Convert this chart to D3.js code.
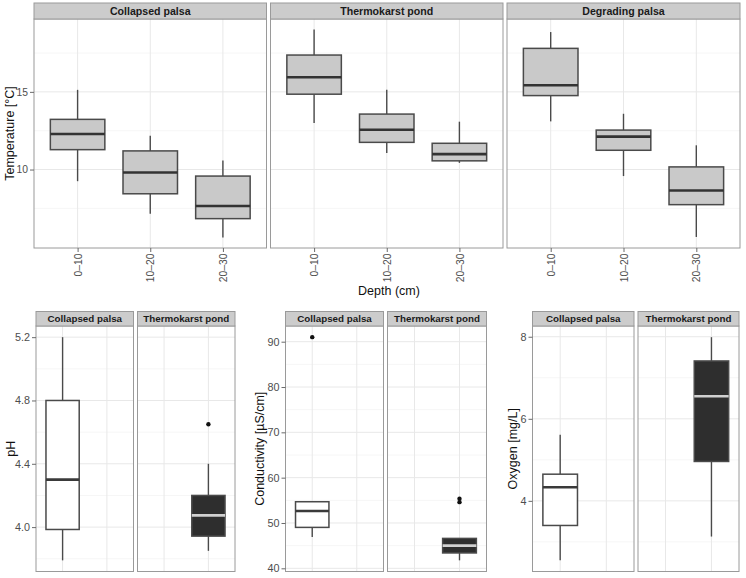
<!DOCTYPE html>
<html><head><meta charset="utf-8">
<script src="https://cdn.jsdelivr.net/npm/d3@7"></script>
<style>body{margin:0;background:#fff} text{font-family:"Liberation Sans",Arial,Helvetica,sans-serif}</style>
</head><body><svg id="c" width="746" height="578"></svg>
<script>
// ---------- data ----------
const sites = ["Collapsed palsa", "Thermokarst pond", "Degrading palsa"];
const depths = ["0–10", "10–20", "20–30"];
// temperature box statistics: rows = site, columns = depth
const tempMin = [[9.25, 7.16, 5.62], [12.99, 11.07, 10.43], [13.10, 9.58, 5.66]];
const tempQ1  = [[11.28, 8.44, 6.84], [14.85, 11.75, 10.56], [14.76, 11.24, 7.74]];
const tempMed = [[12.29, 9.81, 7.65], [15.94, 12.56, 10.99], [15.43, 12.12, 8.65]];
const tempQ3  = [[13.23, 11.20, 9.58], [17.37, 13.57, 11.69], [17.80, 12.54, 10.17]];
const tempMax = [[15.13, 12.18, 10.58], [19.02, 15.13, 13.08], [18.85, 13.59, 11.56]];
const tempTicks = [10, 15];

const waterSites = ["Collapsed palsa", "Thermokarst pond"];
// [lower whisker, Q1, median, Q3, upper whisker]
const phStats = [[3.79, 3.985, 4.30, 4.80, 5.20], [3.85, 3.943, 4.074, 4.20, 4.40]];
const phOutliers = [[], [4.65]];
const phTicks = [4.0, 4.4, 4.8, 5.2];
const condStats = [[46.9, 49.03, 52.64, 54.69, 54.69], [41.76, 43.39, 45.0, 46.6, 46.6]];
const condOutliers = [[91.0], [55.35, 54.6]];
const condTicks = [40, 50, 60, 70, 80, 90];
const oxyStats = [[2.55, 3.40, 4.33, 4.65, 5.61], [3.13, 4.96, 6.55, 7.41, 7.99]];
const oxyOutliers = [[], []];
const oxyTicks = [4, 6, 8];

// ---------- helpers ----------
const svg = d3.select("#c");
const C = {border: "#9a9a9a", strip: "#cccccc", gridMaj: "#e8e8e8", gridMin: "#f6f6f6",
           boxLine: "#4a4a4a", tick: "#6a6a6a", tickText: "#4d4d4d"};

function expandDomain(vals) {
  const lo = d3.min(vals), hi = d3.max(vals), r = hi - lo;
  return [lo - 0.05 * r, hi + 0.05 * r];
}
function minorTicks(ticks, dom) {
  const step = ticks[1] - ticks[0];
  const out = [];
  for (let v = ticks[0] - step / 2 - step * 20; v <= dom[1]; v += step)
    if (v >= dom[0]) out.push(v);
  return out;
}

function drawPanel(o) {
  const g = svg.append("g");
  const x = d3.scaleLinear().domain([0.4, o.nCat + 0.6]).range([o.x0, o.x1]);
  const y = o.y;
  const py0 = o.stripTop + o.stripH;
  g.append("rect").attr("x", o.x0).attr("y", py0).attr("width", o.x1 - o.x0)
    .attr("height", o.y1 - py0).attr("fill", "#fff");
  // grid
  const dom = y.domain();
  g.selectAll(".gmin").data(minorTicks(o.ticks, dom)).join("line")
    .attr("x1", o.x0).attr("x2", o.x1).attr("y1", d => y(d)).attr("y2", d => y(d))
    .attr("stroke", C.gridMin).attr("stroke-width", 1);
  g.selectAll(".gmaj").data(o.ticks.filter(t => t >= dom[0] && t <= dom[1])).join("line")
    .attr("x1", o.x0).attr("x2", o.x1).attr("y1", d => y(d)).attr("y2", d => y(d))
    .attr("stroke", C.gridMaj).attr("stroke-width", 1);
  g.selectAll(".gv").data(d3.range(1, o.nCat + 1)).join("line")
    .attr("x1", d => x(d)).attr("x2", d => x(d)).attr("y1", py0).attr("y2", o.y1)
    .attr("stroke", C.gridMaj).attr("stroke-width", 1);
  // boxes
  o.boxes.forEach(b => {
    const [lo, q1, md, q3, hi] = b.stats;
    const cx = x(b.pos);
    g.append("line").attr("x1", cx).attr("x2", cx).attr("y1", y(q3)).attr("y2", y(hi))
      .attr("stroke", C.boxLine).attr("stroke-width", 1.4);
    g.append("line").attr("x1", cx).attr("x2", cx).attr("y1", y(q1)).attr("y2", y(lo))
      .attr("stroke", C.boxLine).attr("stroke-width", 1.4);
    g.append("rect").attr("x", x(b.pos - 0.375)).attr("width", x(b.pos + 0.375) - x(b.pos - 0.375))
      .attr("y", y(q3)).attr("height", y(q1) - y(q3))
      .attr("fill", b.fill).attr("stroke", C.boxLine).attr("stroke-width", 1.5);
    g.append("line").attr("x1", x(b.pos - 0.375)).attr("x2", x(b.pos + 0.375))
      .attr("y1", y(md)).attr("y2", y(md)).attr("stroke", b.med).attr("stroke-width", 2.6);
    g.selectAll(null).data(b.outliers).join("circle")
      .attr("cx", cx).attr("cy", d => y(d)).attr("r", 2.2).attr("fill", "#111");
  });
  // border
  g.append("rect").attr("x", o.x0).attr("y", py0).attr("width", o.x1 - o.x0)
    .attr("height", o.y1 - py0).attr("fill", "none").attr("stroke", C.border).attr("stroke-width", 1);
  // strip
  g.append("rect").attr("x", o.x0).attr("y", o.stripTop).attr("width", o.x1 - o.x0)
    .attr("height", o.stripH).attr("fill", C.strip).attr("stroke", C.border).attr("stroke-width", 1);
  g.append("text").attr("x", (o.x0 + o.x1) / 2).attr("y", o.stripTop + o.stripH / 2)
    .attr("dy", "0.36em").attr("text-anchor", "middle").attr("font-weight", "bold")
    .attr("font-size", o.stripFs).attr("fill", "#1a1a1a").text(o.title);
  return x;
}

function drawYAxis(o) {
  const ax = d3.axisLeft(o.y).tickValues(o.ticks).tickSize(4).tickPadding(2)
    .tickFormat(o.fmt);
  const g = svg.append("g").attr("transform", `translate(${o.x0},0)`).call(ax);
  g.select(".domain").remove();
  g.selectAll(".tick line").attr("stroke", C.tick);
  g.selectAll(".tick text").attr("fill", C.tickText).attr("font-size", o.fs)
    .attr("font-family", '"Liberation Sans",Arial,sans-serif');
  svg.append("text").attr("transform", `translate(${o.titleX},${o.titleY}) rotate(-90)`)
    .attr("text-anchor", "middle").attr("font-size", 12.5).attr("fill", "#111").text(o.title);
}

// ---------- top row: temperature ----------
const topStrip = 3, topStripH = 16, topBottom = 248;
const tempAll = [].concat(...tempMin, ...tempMax);
const yTemp = d3.scaleLinear().domain(expandDomain(tempAll)).range([topBottom, topStrip + topStripH]);
const topX = [[34, 266.5], [270.5, 503], [507, 740]];
sites.forEach((s, i) => {
  const x = drawPanel({
    x0: topX[i][0], x1: topX[i][1], stripTop: topStrip, stripH: topStripH, y1: topBottom,
    y: yTemp, nCat: 3, ticks: tempTicks, title: s, stripFs: 10.6,
    boxes: depths.map((d, j) => ({pos: j + 1, fill: "#c9c9c9", med: "#333",
      stats: [tempMin[i][j], tempQ1[i][j], tempMed[i][j], tempQ3[i][j], tempMax[i][j]], outliers: []}))
  });
  const ax = d3.axisBottom(x).tickValues([1, 2, 3]).tickSize(4).tickPadding(2)
    .tickFormat(d => depths[d - 1]);
  const g = svg.append("g").attr("transform", `translate(0,${topBottom})`).call(ax);
  g.select(".domain").remove();
  g.selectAll(".tick line").attr("stroke", C.tick);
  g.selectAll(".tick text").attr("fill", C.tickText).attr("font-size", 10.3)
    .attr("font-family", '"Liberation Sans",Arial,sans-serif')
    .attr("transform", "rotate(-90)").attr("text-anchor", "end")
    .attr("x", -5.5).attr("y", 0).attr("dy", "0.35em");
});
drawYAxis({y: yTemp, ticks: tempTicks, x0: 34, fs: 10.3, fmt: d3.format("d"),
  title: "Temperature [°C]", titleX: 13.5, titleY: (topStrip + topStripH + topBottom) / 2});
svg.append("text").attr("x", 389).attr("y", 294.5).attr("text-anchor", "middle")
  .attr("font-size", 12.5).attr("fill", "#111").text("Depth (cm)");

// ---------- bottom row ----------
const botStrip = 311.5, botStripH = 14.5, botBottom = 571.5;
function waterPlot(stats, outliers, ticks, fmt, xs, title, titleX) {
  const all = [].concat(...stats, ...outliers);
  const y = d3.scaleLinear().domain(expandDomain(all)).range([botBottom, botStrip + botStripH]);
  waterSites.forEach((s, i) => {
    drawPanel({
      x0: xs[i][0], x1: xs[i][1], stripTop: botStrip, stripH: botStripH, y1: botBottom,
      y: y, nCat: 2, ticks: ticks, title: s, stripFs: 9.8,
      boxes: [{pos: i + 1, stats: stats[i], outliers: outliers[i],
        fill: i === 0 ? "#ffffff" : "#2e2e2e", med: i === 0 ? "#3a3a3a" : "#d0d0d0"}]
    });
  });
  drawYAxis({y: y, ticks: ticks, x0: xs[0][0], fs: 10.8, fmt: fmt, title: title,
    titleX: titleX, titleY: (botStrip + botStripH + botBottom) / 2});
}
waterPlot(phStats, phOutliers, phTicks, d3.format(".1f"), [[36, 133.5], [137.5, 235]], "pH", 15);
waterPlot(condStats, condOutliers, condTicks, d3.format("d"), [[285.5, 383.5], [387.5, 486.5]],
  "Conductivity [µS/cm]", 264);
waterPlot(oxyStats, oxyOutliers, oxyTicks, d3.format("d"), [[532.5, 634], [638, 739]],
  "Oxygen [mg/L]", 517);
</script></body></html>
